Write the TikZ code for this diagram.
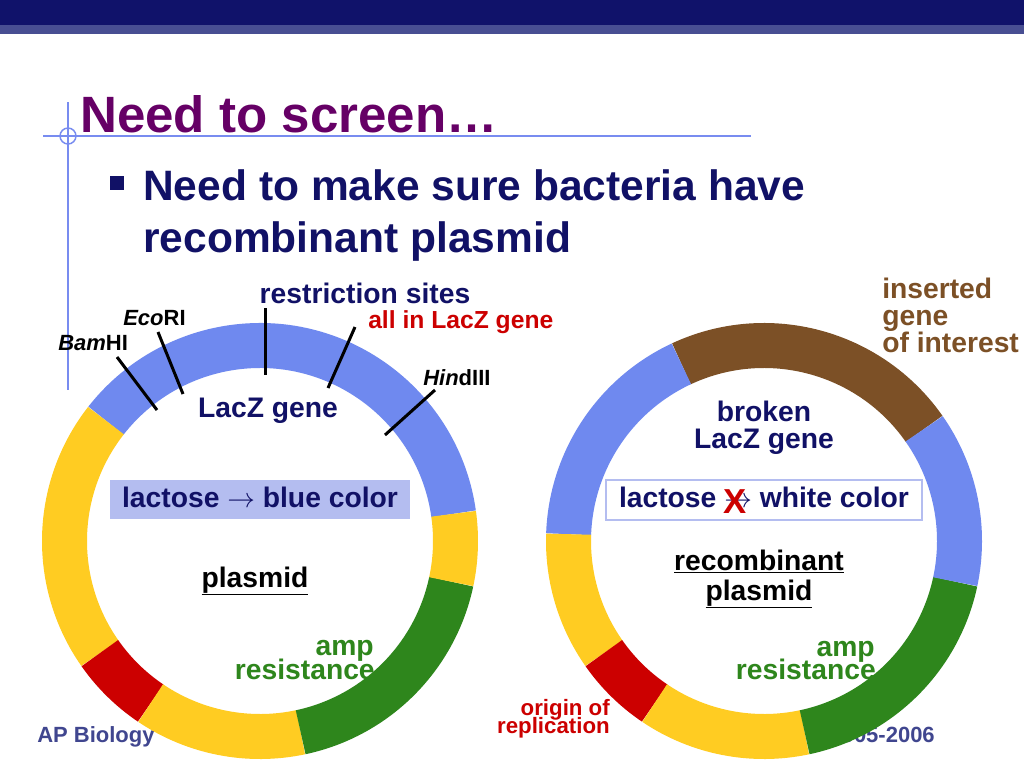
\documentclass[tikz,border=0pt]{standalone}
\usepackage{fontspec}
\setmainfont{Liberation Sans}
\usepackage{tikz}
\usetikzlibrary{arrows}
\definecolor{navy}{RGB}{17,17,102}
\definecolor{barnavy}{RGB}{16,18,106}
\definecolor{barband}{RGB}{72,78,146}
\definecolor{titlepurple}{RGB}{102,0,102}
\definecolor{guide}{RGB}{120,140,240}
\definecolor{footer}{RGB}{64,70,143}
\definecolor{lacblue}{RGB}{111,137,239}
\definecolor{boxblue}{RGB}{180,189,240}
\definecolor{oriyellow}{RGB}{255,204,34}
\definecolor{orired}{RGB}{204,0,0}
\definecolor{ampgreen}{RGB}{46,134,28}
\definecolor{insbrown}{RGB}{124,80,38}
\tikzset{>=stealth}
\newcommand{\ringarc}[4]{\draw[seg, #1](#2) ++(#3:195.5) arc[start angle=#3, end angle=#4, radius=195.5];}
\newcommand{\lbl}[1]{\fontsize{#1}{#1}\selectfont\bfseries}

\begin{document}
\begin{tikzpicture}[x=0.75pt, y=0.75pt, inner sep=0pt,
  seg/.style={line width=33.75pt},
  site/.style={line width=2.25pt, black}]
\useasboundingbox (0,0) rectangle (1024,-768);
\fill[white](0,0) rectangle (1024,-768);
% title bar and guides
\fill[barnavy](0,0) rectangle (1024,-25);
\fill[barband](0,-25) rectangle (1024,-34);
\draw[guide, line width=1.1pt](68,-102)--(68,-390);
\draw[guide, line width=1.1pt](43,-136)--(751,-136);
\draw[guide, line width=1.1pt](68,-136) circle (8);
\node[anchor=base west, text=titlepurple, font=\lbl{38.3}] (title) at (80,-132) {Need to screen…};
\fill[navy](110,-176) rectangle (124,-190);
\node[anchor=base west, text=navy, font=\lbl{31.9}] (bul1) at (143,-200) {Need to make sure bacteria have};
\node[anchor=base west, text=navy, font=\lbl{31.9}] (bul2) at (143,-252) {recombinant plasmid};
% footer (drawn first, the ring hides part of it)
\node[anchor=base west, text=footer, font=\lbl{16.5}] (apbio) at (37,-742) {AP Biology};
\node[anchor=base east, text=footer, font=\lbl{16.5}] (years) at (935,-742) {2005-2006};
% left ring: plasmid
\coordinate (pl) at (260,-541);
\ringarc{lacblue}{pl}{8}{142}
\ringarc{oriyellow}{pl}{142}{215}
\ringarc{orired}{pl}{215}{236}
\ringarc{oriyellow}{pl}{236}{282}
\ringarc{ampgreen}{pl}{282}{348}
\ringarc{oriyellow}{pl}{348}{368}
% restriction sites
\coordinate (bamA) at (117,-357); \coordinate (bamB) at (157,-410);
\coordinate (ecoA) at (158,-332); \coordinate (ecoB) at (183,-394);
\coordinate (midA) at (265,-308); \coordinate (midB) at (265,-375);
\coordinate (allA) at (355,-327); \coordinate (allB) at (328,-388);
\coordinate (hinA) at (435,-390); \coordinate (hinB) at (385,-435);
\draw[site](bamA)--(bamB);
\draw[site](ecoA)--(ecoB);
\draw[site](midA)--(midB);
\draw[site](allA)--(allB);
\draw[site](hinA)--(hinB);
\node[anchor=base, text=navy, font=\lbl{21.2}] (sites) at (365,-303) {restriction sites};
\node[anchor=base west, text=orired, font=\lbl{18.5}] (allin) at (368,-328) {all in LacZ gene};
\node[anchor=base west, font=\lbl{16.5}] (eco) at (123,-325) {\textit{Eco}RI};
\node[anchor=base west, font=\lbl{16.5}] (bam) at (58,-350) {\textit{Bam}HI};
\node[anchor=base west, font=\lbl{16.5}] (hin) at (423,-385) {\textit{Hin}dIII};
\node[anchor=base, text=navy, font=\lbl{21.2}] (lacz) at (268,-417) {LacZ gene};
\node[fill=boxblue, minimum width=225pt, minimum height=29.25pt] (bluebox) at (260,-499.5) {};
\node[anchor=base, text=navy, font=\lbl{21.2}] (bluetxt) at (260,-507) {lactose $\rightarrow$ blue color};
\node[anchor=base, font=\lbl{21.2}] (plasmid) at (255,-587) {\underline{plasmid}};
\node[anchor=base east, text=ampgreen, font=\lbl{21.2}] (amp1) at (374,-655) {amp};
\node[anchor=base east, text=ampgreen, font=\lbl{21.2}] (amp2) at (375,-679) {resistance};
% right ring: recombinant plasmid
\coordinate (rp) at (764,-541);
\ringarc{insbrown}{rp}{35}{115}
\ringarc{lacblue}{rp}{115}{178}
\ringarc{oriyellow}{rp}{178}{215}
\ringarc{orired}{rp}{215}{236}
\ringarc{oriyellow}{rp}{236}{282}
\ringarc{ampgreen}{rp}{282}{348}
\ringarc{lacblue}{rp}{348}{395}
\node[anchor=base west, text=insbrown, font=\lbl{21.2}] (ins1) at (882,-298) {inserted};
\node[anchor=base west, text=insbrown, font=\lbl{21.2}] (ins2) at (882,-325) {gene};
\node[anchor=base west, text=insbrown, font=\lbl{21.2}] (ins3) at (882,-352) {of interest};
\node[anchor=base, text=navy, font=\lbl{21.2}] (brk1) at (764,-421) {broken};
\node[anchor=base, text=navy, font=\lbl{21.2}] (brk2) at (764,-448) {LacZ gene};
\node[draw=boxblue, line width=1.2pt, fill=white, minimum width=237pt, minimum height=30pt] (whitebox) at (764,-500) {};
\node[anchor=base, text=navy, font=\lbl{21.2}] (whitetxt) at (764,-507) {lactose $\rightarrow$ white color};
\node[text=orired, font=\lbl{26}] (cross) at (735,-502) {X};
\node[anchor=base, font=\lbl{21.2}] (rec1) at (759,-570) {\underline{recombinant}};
\node[anchor=base, font=\lbl{21.2}] (rec2) at (759,-600) {\underline{plasmid}};
\node[anchor=base east, text=ampgreen, font=\lbl{21.2}] (amp3) at (875,-656) {amp};
\node[anchor=base east, text=ampgreen, font=\lbl{21.2}] (amp4) at (876,-679) {resistance};
\node[anchor=base east, text=orired, font=\lbl{16.7}] (ori1) at (610,-715) {origin of};
\node[anchor=base east, text=orired, font=\lbl{16.7}] (ori2) at (610,-733) {replication};
\end{tikzpicture}
\end{document}
